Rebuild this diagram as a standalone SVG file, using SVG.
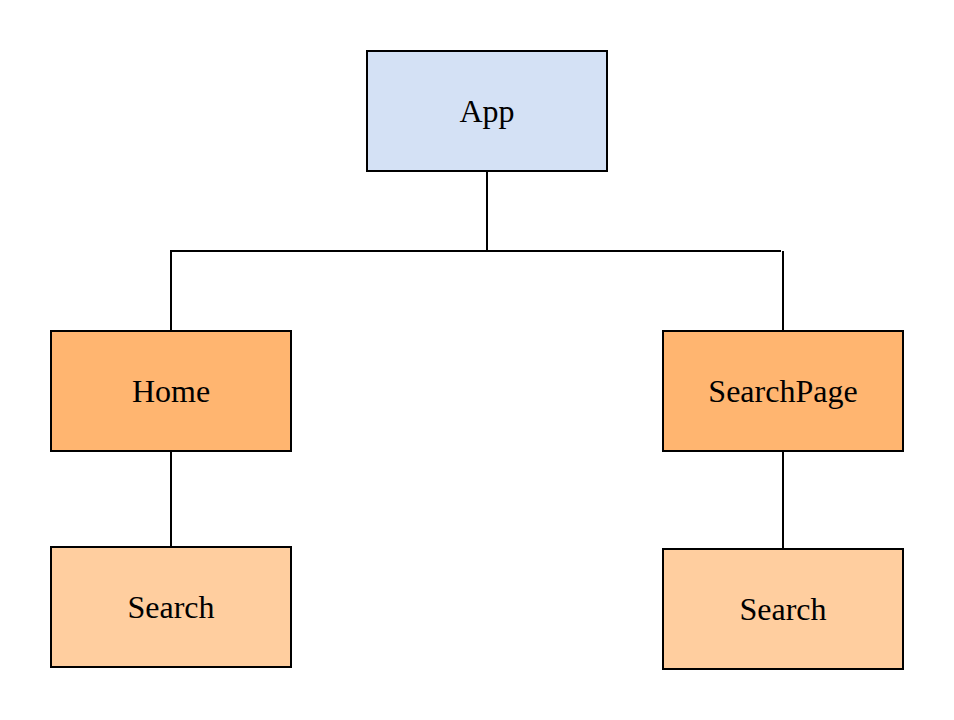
<svg xmlns="http://www.w3.org/2000/svg" width="954" height="720" viewBox="0 0 954 720">
<style>
.box{stroke:#000;stroke-width:2}
.app{fill:#d4e1f5}
.mid{fill:#ffb570}
.leaf{fill:#ffce9f}
.lbl{font-family:"Liberation Serif","Times New Roman",serif;font-size:32px;fill:#000;text-anchor:middle}
.edge{stroke:#000;stroke-width:2;fill:none}
</style>
<rect width="954" height="720" fill="#fff"/>
<g id="connectors">
<path class="edge" d="M487 171 V251"/>
<path class="edge" d="M171 331 V251 H781"/>
<path class="edge" d="M783 251 V331"/>
<path class="edge" d="M171 451 V547"/>
<path class="edge" d="M783 451 V549"/>
</g>
<g id="app"><rect class="box app" x="367" y="51" width="240" height="120"/><text class="lbl" x="487" y="122">App</text></g>
<g id="home"><rect class="box mid" x="51" y="331" width="240" height="120"/><text class="lbl" x="171" y="402">Home</text></g>
<g id="searchpage"><rect class="box mid" x="663" y="331" width="240" height="120"/><text class="lbl" x="783" y="402">SearchPage</text></g>
<g id="search1"><rect class="box leaf" x="51" y="547" width="240" height="120"/><text class="lbl" x="171" y="618">Search</text></g>
<g id="search2"><rect class="box leaf" x="663" y="549" width="240" height="120"/><text class="lbl" x="783" y="620">Search</text></g>
</svg>
